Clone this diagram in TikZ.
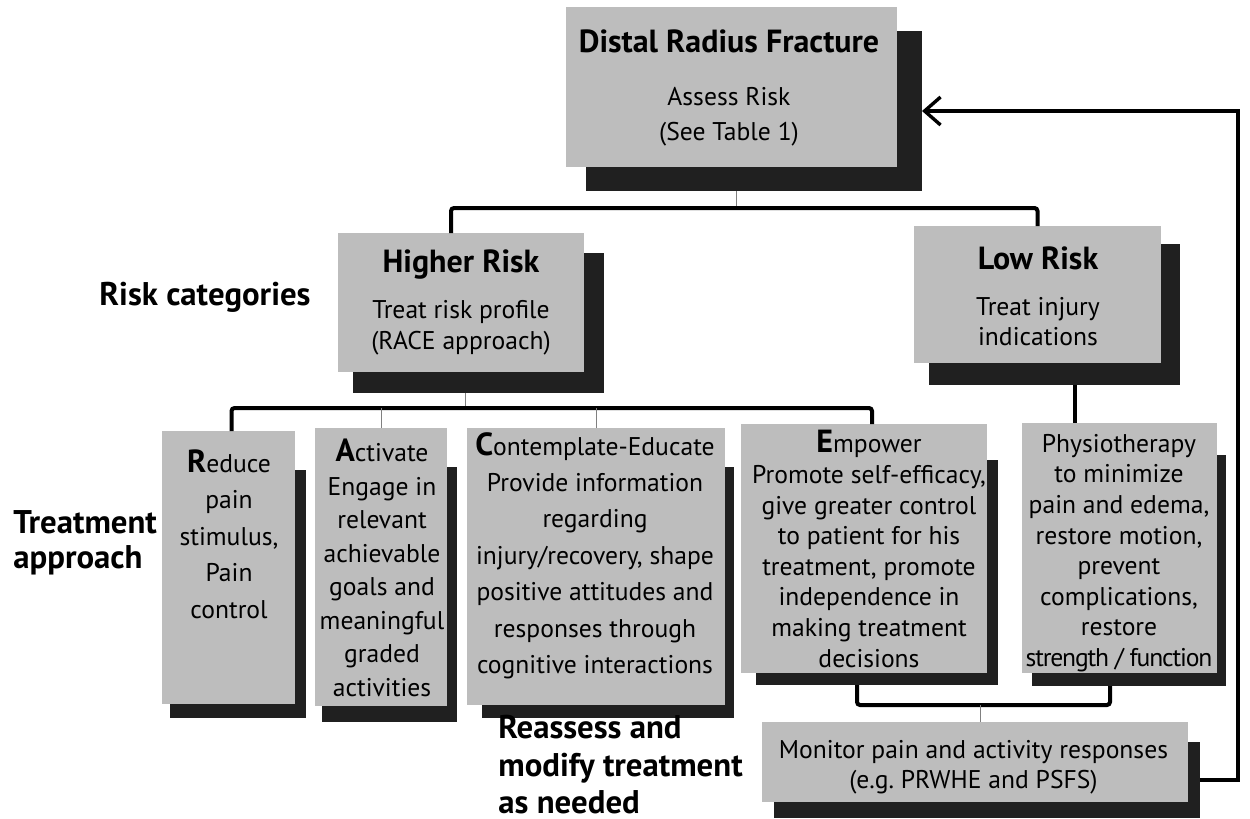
\documentclass[tikz,border=0pt]{standalone}
\usepackage{fontspec}
\setmainfont{PT Sans}
\usepackage{tikz}
\usetikzlibrary{arrows.meta,positioning,calc,fit}
\definecolor{cardgray}{RGB}{189,189,189}
\definecolor{shadowgray}{RGB}{32,32,32}
\tikzstyle{card}=[fill=cardgray,inner sep=0pt,outer sep=0pt]
\tikzstyle{backing}=[fill=shadowgray,inner sep=0pt,outer sep=0pt]
\tikzstyle{bar}=[line width=2pt,rounded corners=1.5pt]
\tikzstyle{link}=[line width=0.5pt,black!50]
\tikzstyle{back}=[line width=1.7pt,-{Straight Barb[length=8pt,width=14pt]}]
\tikzset{txt/.style={align=center,inner sep=0pt,font=\fontsize{12.8}{#1}\selectfont},txt/.default=15.3,
  side/.style={align=left,inner sep=0pt,font=\fontsize{16.4}{#1}\selectfont\bfseries},side/.default=17.5}
\newcommand{\hd}[1]{{\fontsize{16}{18}\selectfont\bfseries #1}}

\begin{document}
\begin{tikzpicture}[x=0.5pt,y=-0.5pt]
\useasboundingbox (0,0) rectangle (1250,819);

% shadows
\node[backing,fit={(586,31)(922,191)}] (topS) {};
\node[backing,fit={(353,253)(604,393)}] (higherS) {};
\node[backing,fit={(929,244)(1180,385)}] (lowS) {};
\node[backing,fit={(170,470)(306,718)}] (reduceS) {};
\node[backing,fit={(322,467)(457,722)}] (activateS) {};
\node[backing,fit={(482,467)(734,718)}] (contemplateS) {};
\node[backing,fit={(756,460)(998,685)}] (empowerS) {};
\node[backing,fit={(1032,455)(1226,686)}] (physioS) {};
\node[backing,fit={(774,742)(1200,818)}] (monitorS) {};

% boxes
\node[card,fit={(566,7)(897,167)}] (top) {};
\node[card,fit={(338,233)(584,372)}] (higher) {};
\node[card,fit={(914,226)(1161,363)}] (low) {};
\node[card,fit={(162,431)(295,704)}] (reduce) {};
\node[card,fit={(315,428)(447,706)}] (activate) {};
\node[card,fit={(467,428)(725,705)}] (contemplate) {};
\node[card,fit={(741,424)(987,673)}] (empower) {};
\node[card,fit={(1022,423)(1217,673)}] (physio) {};
\node[card,fit={(762,722)(1188,802)}] (monitor) {};

% texts
\node[txt=17.5] (topT) at (729,88) {\hd{Distal Radius Fracture}\\[9pt]Assess Risk\\(See Table 1)};
\node[txt=15.5] (higherT) at (461,302.5) {\hd{Higher Risk}\\[7.5pt]Treat risk profile\\(RACE approach)};
\node[txt=15] (lowT) at (1038,296.5) {\hd{Low Risk}\\[8pt]Treat injury\\indications};
\node[txt=18.25] (reduceT) at (229,534) {\hd{R}educe\\pain\\stimulus,\\Pain\\control};
\node[txt=16.75] (activateT) at (382,568) {\hd{A}ctivate\\Engage in\\relevant\\achievable\\goals and\\meaningful\\graded\\activities};
\node[txt=18.2] (contemplateT) at (595,555.5) {\hd{C}ontemplate-Educate\\Provide information\\regarding\\injury/recovery, shape\\positive attitudes and\\responses through\\cognitive interactions};
\node[txt=15.3] (empowerT) at (869,549) {\hd{E}mpower\\Promote self-efficacy,\\give greater control\\to patient for his\\treatment,\ promote\\independence in\\making treatment\\decisions};
\node[txt=15.3] (physioT) at (1119,553) {Physiotherapy\\to minimize\\pain and edema,\\restore motion,\\prevent\\complications,\\restore\\{\addfontfeature{LetterSpace=-4.5}strength / function}};
\node[txt=15] (monitorT) at (973.5,767) {Monitor pain and activity responses\\(e.g.\ PRWHE and PSFS)};

% side labels
\node[side] (riskL) at (205,297.5) {Risk categories};
\node[side=17.5,anchor=west] (treatL) at (13,543) {Treatment\\approach};
\node[side=18.75,anchor=west] (reassessL) at (498,765) {Reassess and\\modify treatment\\as needed};

% connectors
\coordinate (j1) at (736,208);
\draw[link] (topS.south -| j1) -- (j1);
\draw[bar] ([xshift=-5pt]higher.north) |- (j1) -| (low.north);

\coordinate (j2) at (465,408);
\draw[link] (higherS.south -| j2) -- (j2);
\draw[bar] ([xshift=1.5pt]reduce.north) |- (j2) -| ([xshift=4pt]empower.north);
\draw[link] (activate.north) -- (activate.north |- j2);
\draw[link] (contemplate.north) -- (contemplate.north |- j2);

\draw[bar] ([xshift=10pt]lowS.south) -- ([xshift=10pt]lowS.south |- physio.north);

\coordinate (j3) at (980,705);
\draw[bar] ([xshift=-10pt]empowerS.south) |- (j3) -| ([xshift=-9.5pt]physioS.south);
\draw[link] (j3) -- (j3 |- monitor.north);

\coordinate (fb) at (1238,111);
\draw[back] (monitorS.east) -| (fb) -- (topS.east);
\end{tikzpicture}
\end{document}
